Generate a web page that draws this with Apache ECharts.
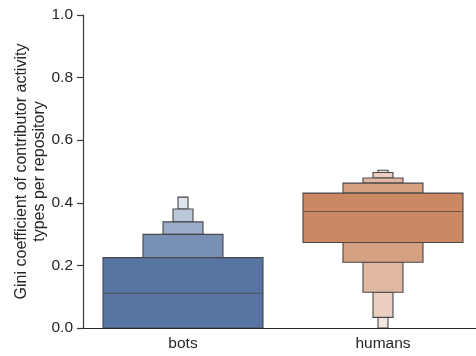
<!DOCTYPE html>
<html>
<head>
<meta charset="utf-8">
<script src="https://cdn.jsdelivr.net/npm/echarts@6/dist/echarts.min.js"></script>
<style>html,body{margin:0;padding:0;background:#fff;}#c{width:476px;height:356px;}</style>
</head>
<body>
<div id="c"></div>
<script>
// Letter-value (boxen) plot data
var categories = ['bots', 'humans'];
var yTicks = [0.0, 0.2, 0.4, 0.6, 0.8, 1.0];
// box edges: index 0 = innermost box (quartiles), then outer letter values
var botsLower   = [0.000, 0.000, 0.000, 0.000, 0.000];
var botsUpper   = [0.225, 0.299, 0.339, 0.380, 0.418];
var botsMedian  = 0.111;
var humansLower = [0.273, 0.210, 0.114, 0.034, 0.000];
var humansUpper = [0.431, 0.463, 0.479, 0.497, 0.504];
var humansMedian = 0.372;

var baseColors = [[88,116,163],[204,136,99]];
var lowers = [botsLower, humansLower];
var uppers = [botsUpper, humansUpper];
var medians = [botsMedian, humansMedian];

function shade(rgb, f){
  return 'rgb(' + rgb.map(function(c){return Math.round(c + (255 - c) * f);}).join(',') + ')';
}
var FONT = 'Liberation Sans, Arial, sans-serif';

var chart = echarts.init(document.getElementById('c'), null, {renderer:'canvas'});
chart.setOption({
  animation: false,
  backgroundColor: '#fff',
  grid: {left: 83, top: 15, width: 400, height: 313, containLabel: false, outerBoundsMode: 'none'},
  xAxis: {
    type: 'category',
    data: categories,
    boundaryGap: true,
    axisLine: {show: true, lineStyle: {color: '#262626', width: 1.2}},
    axisTick: {show: false},
    axisLabel: {color: '#262626', fontSize: 15.5, fontFamily: FONT, margin: 8}
  },
  yAxis: {
    type: 'value',
    min: 0, max: 1, interval: 0.2,
    name: 'Gini coefficient of contributor activity\ntypes per repository',
    nameLocation: 'middle',
    nameRotate: 90,
    nameGap: 34,
    nameMoveOverlap: false,
    nameTextStyle: {color: '#262626', fontSize: 16, lineHeight: 18, fontFamily: FONT},
    axisLine: {show: true, lineStyle: {color: '#3a3a3a', width: 1.2}},
    axisTick: {show: true, length: 6, lineStyle: {color: '#3a3a3a', width: 1.2}},
    splitLine: {show: false},
    axisLabel: {color: '#262626', fontSize: 15.5, fontFamily: FONT, margin: 10,
      formatter: function(v){ return v.toFixed(1); }}
  },
  series: [{
    type: 'custom',
    clip: true,
    data: categories.map(function(c, i){ return [i]; }),
    encode: {x: 0},
    renderItem: function(params, api){
      var i = api.value(0);
      var band = api.size([1, 0])[0];
      var cx = api.coord([i, 0])[0];
      var lo = lowers[i], up = uppers[i];
      var n = lo.length;
      var children = [];
      var stroke = {stroke: '#484848', lineWidth: 1.1};
      // outer levels first
      for (var k = n - 1; k >= 1; k--) {
        var w = band * 0.8 / Math.pow(2, k);
        var col = shade(baseColors[i], 0.2 * k);
        var yTop = api.coord([i, up[k]])[1], yBot = api.coord([i, up[k-1]])[1];
        if (yBot - yTop > 0.01) children.push({type: 'rect', shape: {x: cx - w/2, y: yTop, width: w, height: yBot - yTop},
          style: Object.assign({fill: col}, stroke)});
        var lTop = api.coord([i, lo[k-1]])[1], lBot = api.coord([i, lo[k]])[1];
        if (lBot - lTop > 0.01) children.push({type: 'rect', shape: {x: cx - w/2, y: lTop, width: w, height: lBot - lTop},
          style: Object.assign({fill: col}, stroke)});
      }
      var w0 = band * 0.8;
      var t0 = api.coord([i, up[0]])[1], b0 = api.coord([i, lo[0]])[1];
      children.push({type: 'rect', shape: {x: cx - w0/2, y: t0, width: w0, height: b0 - t0},
        style: Object.assign({fill: shade(baseColors[i], 0)}, stroke)});
      var my = api.coord([i, medians[i]])[1];
      children.push({type: 'line', shape: {x1: cx - w0/2, y1: my, x2: cx + w0/2, y2: my},
        style: {stroke: '#484848', lineWidth: 1.1, opacity: 0.8}});
      return {type: 'group', children: children};
    },
    z: 1
  }]
});
</script>
</body>
</html>
